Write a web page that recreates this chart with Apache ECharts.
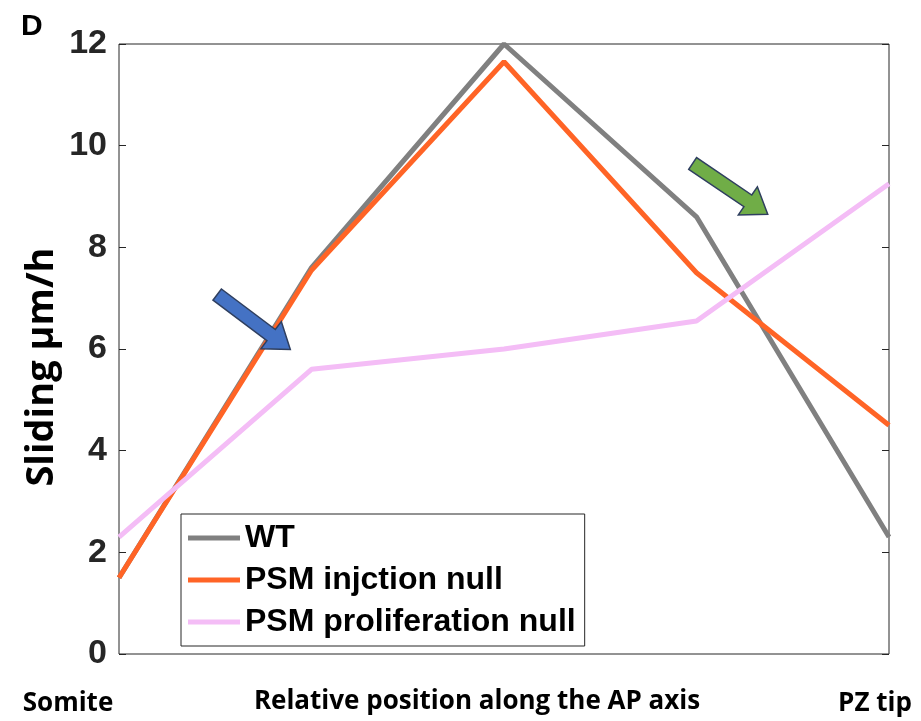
<!DOCTYPE html>
<html>
<head>
<meta charset="utf-8">
<script src="https://cdn.jsdelivr.net/npm/echarts@6/dist/echarts.min.js"></script>
<style>
  html, body { margin: 0; padding: 0; background: #fff; }
  #main { width: 921px; height: 721px; }
</style>
</head>
<body>
<div id="main"></div>
<script>
  // positions along the AP axis (0 = somite, 4 = PZ tip)
  var positions = [0, 1, 2, 3, 4];
  var wt = [1.5, 7.6, 12.0, 8.6, 2.3];
  var injectionNull = [1.5, 7.55, 11.65, 7.5, 4.5];
  var proliferationNull = [2.3, 5.6, 6.0, 6.55, 9.25];
  var seriesNames = ['WT', 'PSM injction null', 'PSM proliferation null'];
  var colors = ['#808080', '#ff6426', '#f4bdf6'];
  var xEndLabels = ['Somite', 'PZ tip'];
  // annotation arrows, tail -> tip in data coordinates
  var arrows = [
    { from: [0.51, 7.07], to: [0.89, 5.99], fill: '#4472c4' },
    { from: [2.98, 9.65], to: [3.37, 8.65], fill: '#70ad47' }
  ];

  var myChart = echarts.init(document.getElementById('main'));

  function pairs(vals) {
    return vals.map(function (v, i) { return [positions[i], v]; });
  }

  var seriesList = [wt, injectionNull, proliferationNull].map(function (vals, i) {
    return {
      name: seriesNames[i],
      type: 'line',
      data: pairs(vals),
      symbol: 'none',
      lineStyle: { width: 5, color: colors[i] },
      itemStyle: { color: colors[i] },
      z: 2 + i
    };
  });

  var labelFont = '"Open Sans"';

  var option = {
    animation: false,
    color: colors,
    grid: {
      left: 119, right: 32, top: 44, bottom: 67,
      show: true, borderColor: '#262626', borderWidth: 1
    },
    legend: {
      orient: 'vertical',
      left: 181, top: 514,
      icon: 'rect',
      itemWidth: 52, itemHeight: 5,
      itemGap: 10,
      padding: [8, 9, 8, 7],
      backgroundColor: '#fff',
      borderColor: '#262626', borderWidth: 1, borderRadius: 0,
      data: seriesNames,
      textStyle: {
        fontFamily: 'Liberation Sans', fontWeight: 'bold',
        fontSize: 32, lineHeight: 30, color: '#000'
      }
    },
    xAxis: {
      type: 'value', min: 0, max: 4,
      axisLine: { show: false },
      axisTick: { show: false },
      axisLabel: { show: false },
      splitLine: { show: false },
      name: 'Relative position along the AP axis',
      nameLocation: 'middle',
      nameGap: 35,
      nameTextStyle: {
        fontFamily: labelFont, fontWeight: 'bold', fontSize: 26, color: '#000',
        padding: [0, 54, 0, 0]
      }
    },
    yAxis: [{
      type: 'value', min: 0, max: 12, interval: 2,
      position: 'left',
      axisLine: { show: false },
      axisTick: { show: true, inside: true, length: 7, lineStyle: { color: '#262626' } },
      splitLine: { show: false },
      axisLabel: {
        margin: 12,
        fontFamily: 'Liberation Sans', fontWeight: 'bold',
        fontSize: 34, color: '#262626'
      }
    }, {
      type: 'value', min: 0, max: 12, interval: 2,
      position: 'right',
      axisLine: { show: false },
      axisTick: { show: true, inside: true, length: 7, lineStyle: { color: '#262626' } },
      axisLabel: { show: false },
      splitLine: { show: false }
    }],
    series: seriesList,
    graphic: [{
      type: 'text', left: 21, top: 12,
      style: { text: 'D', font: 'bold 30px "Liberation Sans"', fill: '#000' }
    }, {
      type: 'text', x: 42, y: 367, rotation: Math.PI / 2,
      style: {
        text: 'Sliding µm/h', font: 'bold 38px ' + labelFont, fill: '#000',
        align: 'center', verticalAlign: 'middle'
      }
    }, {
      type: 'text', x: 68, y: 704,
      style: {
        text: xEndLabels[0], font: 'bold 26px ' + labelFont, fill: '#000',
        align: 'center', verticalAlign: 'middle'
      }
    }, {
      type: 'text', x: 875, y: 704,
      style: {
        text: xEndLabels[1], font: 'bold 26px ' + labelFont, fill: '#000',
        align: 'center', verticalAlign: 'middle'
      }
    }]
  };

  myChart.setOption(option);

  // block arrows built from the chart's own coordinate system
  function arrowPoints(a) {
    var p0 = myChart.convertToPixel({ gridIndex: 0 }, a.from);
    var p1 = myChart.convertToPixel({ gridIndex: 0 }, a.to);
    var dx = p1[0] - p0[0], dy = p1[1] - p0[1];
    var len = Math.sqrt(dx * dx + dy * dy);
    var ux = dx / len, uy = dy / len, nx = -uy, ny = ux;
    var shaft = 7, head = 17, headLen = 24;
    var bx = p1[0] - ux * headLen, by = p1[1] - uy * headLen;
    return [
      [p0[0] + nx * shaft, p0[1] + ny * shaft],
      [bx + nx * shaft, by + ny * shaft],
      [bx + nx * head, by + ny * head],
      [p1[0], p1[1]],
      [bx - nx * head, by - ny * head],
      [bx - nx * shaft, by - ny * shaft],
      [p0[0] - nx * shaft, p0[1] - ny * shaft]
    ];
  }

  var arrowGraphics = arrows.map(function (a) {
    return {
      type: 'polygon', z: 100,
      shape: { points: arrowPoints(a) },
      style: { fill: a.fill, stroke: '#2f3f5f', lineWidth: 1.5 }
    };
  });
  myChart.setOption({ graphic: option.graphic.concat(arrowGraphics) });
</script>
</body>
</html>
